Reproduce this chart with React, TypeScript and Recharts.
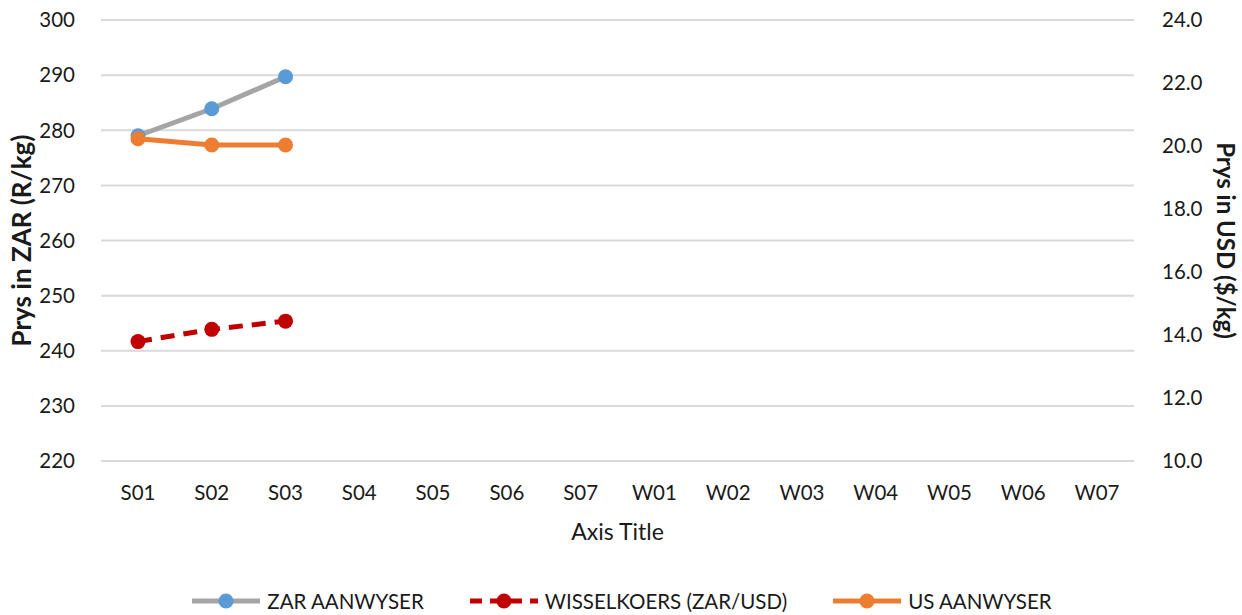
import React from "react";
import {
  LineChart,
  Line,
  XAxis,
  YAxis,
  CartesianGrid,
} from "recharts";

const WEEKS = ["S01", "S02", "S03", "S04", "S05", "S06", "S07", "W01", "W02", "W03", "W04", "W05", "W06", "W07"];
const ZAR_INDEX = [279.0, 283.9, 289.7];
const EXCHANGE_RATE = [13.79, 14.18, 14.44];
const US_INDEX = [20.23, 20.03, 20.03];
const LEFT_TICKS = [220, 230, 240, 250, 260, 270, 280, 290, 300];
const RIGHT_TICKS = [10, 12, 14, 16, 18, 20, 22, 24];

const FONT = "Lato, 'Open Sans', sans-serif";
const TEXT = "#1a1a1a";

const rows = WEEKS.map((week, i) => ({
  week,
  zar: ZAR_INDEX[i] ?? null,
  rate: EXCHANGE_RATE[i] ?? null,
  us: US_INDEX[i] ?? null,
}));

const legendItems = [
  { label: "ZAR AANWYSER", line: "#a5a5a5", dot: "#5b9bd5", dashed: false },
  { label: "WISSELKOERS (ZAR/USD)", line: "#c00000", dot: "#c00000", dashed: true },
  { label: "US AANWYSER", line: "#ed7d31", dot: "#ed7d31", dashed: false },
];

function Legend() {
  return (
    <div
      style={{
        position: "absolute",
        top: 587,
        left: 0,
        width: 1242,
        display: "flex",
        justifyContent: "center",
        gap: 44,
        fontFamily: FONT,
        fontSize: 20.5,
        color: TEXT,
      }}
    >
      {legendItems.map((it) => (
        <div key={it.label} style={{ display: "flex", alignItems: "center", gap: 5 }}>
          <svg width={72} height={28}>
            <line
              x1={2}
              x2={70}
              y1={14}
              y2={14}
              stroke={it.line}
              strokeWidth={5}
              strokeDasharray={it.dashed ? "12 8" : undefined}
            />
            <circle cx={36} cy={14} r={7.5} fill={it.dot} />
          </svg>
          <span>{it.label}</span>
        </div>
      ))}
    </div>
  );
}

export default function App() {
  const tick = { fontSize: 20.5, fill: TEXT, fontFamily: FONT };
  return (
    <div style={{ position: "fixed", top: 0, left: 0, width: 1242, height: 615, background: "#fff" }}>
      <LineChart
        width={1242}
        height={615}
        data={rows}
        margin={{ top: 20, right: 0, bottom: 54, left: 0 }}
      >
        <CartesianGrid yAxisId="left" vertical={false} stroke="#d9d9d9" strokeWidth={2} />
        <XAxis
          dataKey="week"
          tick={tick}
          tickLine={false}
          axisLine={{ stroke: "#d9d9d9", strokeWidth: 2 }}
          tickMargin={18}
          height={100}
          padding={{ left: 37, right: 37 }}
          label={{
            value: "Axis Title",
            position: "insideTop",
            offset: 63,
            style: { fontSize: 23, fill: TEXT, fontFamily: FONT },
          }}
        />
        <YAxis
          yAxisId="left"
          domain={[220, 300]}
          ticks={LEFT_TICKS}
          interval={0}
          tick={tick}
          tickLine={false}
          axisLine={false}
          tickMargin={20}
          width={101}
          label={{
            value: "Prys in ZAR (R/kg)",
            angle: -90,
            position: "insideLeft",
            offset: 22,
            style: { fontSize: 26, fontWeight: 700, fill: TEXT, fontFamily: FONT, textAnchor: "middle" },
          }}
        />
        <YAxis
          yAxisId="right"
          orientation="right"
          domain={[10, 24]}
          ticks={RIGHT_TICKS}
          interval={0}
          tickFormatter={(v: number) => v.toFixed(1)}
          tick={tick}
          tickLine={false}
          axisLine={false}
          tickMargin={22}
          width={108}
          label={{
            value: "Prys in USD ($/kg)",
            angle: 90,
            position: "insideRight",
            offset: 16,
            style: { fontSize: 24, fontWeight: 700, fill: TEXT, fontFamily: FONT, textAnchor: "middle" },
          }}
        />
        <Line
          yAxisId="left"
          dataKey="zar"
          stroke="#a5a5a5"
          strokeWidth={5}
          dot={{ r: 7.5, fill: "#5b9bd5", stroke: "#5b9bd5", strokeWidth: 0 }}
          activeDot={false}
          isAnimationActive={false}
        />
        <Line
          yAxisId="right"
          dataKey="rate"
          stroke="#c00000"
          strokeWidth={5}
          strokeDasharray="14 9"
          dot={{ r: 7.5, fill: "#c00000", stroke: "#c00000", strokeWidth: 0 }}
          activeDot={false}
          isAnimationActive={false}
        />
        <Line
          yAxisId="right"
          dataKey="us"
          stroke="#ed7d31"
          strokeWidth={5}
          dot={{ r: 7.5, fill: "#ed7d31", stroke: "#ed7d31", strokeWidth: 0 }}
          activeDot={false}
          isAnimationActive={false}
        />
      </LineChart>
      <Legend />
    </div>
  );
}
